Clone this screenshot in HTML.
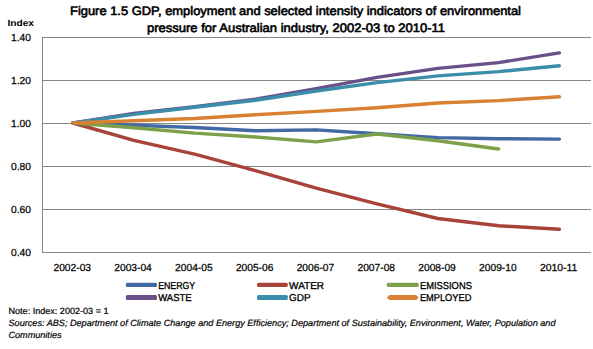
<!DOCTYPE html>
<html><head><meta charset="utf-8"><style>
html,body{margin:0;padding:0;background:#fff;}
svg{display:block;}
text{font-family:"Liberation Sans",sans-serif;fill:#000;text-rendering:geometricPrecision;}
</style></head><body>
<svg width="593" height="349" viewBox="0 0 593 349">
<rect width="593" height="349" fill="#fff"/>
<g font-weight="normal" stroke="#000" stroke-width="0.6">
<text x="70" y="14.5" font-size="12.3" textLength="451" lengthAdjust="spacingAndGlyphs" >Figure 1.5 GDP, employment and selected intensity indicators of environmental</text>
<text x="147" y="31.6" font-size="12.3" textLength="298" lengthAdjust="spacingAndGlyphs" >pressure for Australian industry, 2002-03 to 2010-11</text>
</g><g font-weight="bold"><text x="7.5" y="25.8" font-size="9" textLength="26.5" lengthAdjust="spacingAndGlyphs" >Index</text>
</g>
<g stroke="#868686" stroke-width="1" fill="none">
<line x1="42" y1="37.5" x2="591" y2="37.5" />
<line x1="42" y1="80.5" x2="591" y2="80.5" />
<line x1="42" y1="123.5" x2="591" y2="123.5" />
<line x1="42" y1="166.5" x2="591" y2="166.5" />
<line x1="42" y1="209.5" x2="591" y2="209.5" />
<line x1="42" y1="252.5" x2="591" y2="252.5" />
<line x1="42.5" y1="37" x2="42.5" y2="252.5" />
</g>
<g fill="none" stroke-width="3.4" stroke-linejoin="round" stroke-linecap="round">
<polyline points="73.0,123.0 133.8,125.2 194.6,127.5 255.4,130.7 316.2,129.9 377.0,133.8 437.8,137.6 498.6,138.7 559.4,139.1" stroke="#4169A3" />
<polyline points="73.0,123.0 133.8,140.4 194.6,154.2 255.4,170.7 316.2,188.1 377.0,203.8 437.8,218.5 498.6,225.8 559.4,229.2" stroke="#A8433A" />
<polyline points="73.0,123.0 133.8,127.7 194.6,133.1 255.4,137.0 316.2,141.9 377.0,134.0 437.8,140.8 498.6,149.0" stroke="#7EA04A" />
<polyline points="73.0,123.0 133.8,113.5 194.6,106.7 255.4,99.1 316.2,88.6 377.0,77.4 437.8,68.4 498.6,62.6 559.4,52.9" stroke="#6A5088" />
<polyline points="73.0,123.0 133.8,114.4 194.6,107.3 255.4,100.2 316.2,91.0 377.0,82.6 437.8,75.9 498.6,71.6 559.4,65.8" stroke="#3A8EAA" />
<polyline points="73.0,123.0 133.8,120.8 194.6,118.5 255.4,114.8 316.2,111.4 377.0,107.7 437.8,103.0 498.6,100.6 559.4,96.8" stroke="#D98132" />
</g>
<g font-weight="normal" stroke="#000" stroke-width="0.25">
<text x="11" y="40.5" font-size="10.2" textLength="20" lengthAdjust="spacingAndGlyphs">1.40</text>
<text x="11" y="83.5" font-size="10.2" textLength="20" lengthAdjust="spacingAndGlyphs">1.20</text>
<text x="11" y="126.5" font-size="10.2" textLength="20" lengthAdjust="spacingAndGlyphs">1.00</text>
<text x="11" y="169.5" font-size="10.2" textLength="20" lengthAdjust="spacingAndGlyphs">0.80</text>
<text x="11" y="212.5" font-size="10.2" textLength="20" lengthAdjust="spacingAndGlyphs">0.60</text>
<text x="11" y="255.5" font-size="10.2" textLength="20" lengthAdjust="spacingAndGlyphs">0.40</text>
<text x="53.5" y="271" font-size="10.2" textLength="37.5" lengthAdjust="spacingAndGlyphs">2002-03</text>
<text x="114.3" y="271" font-size="10.2" textLength="37.5" lengthAdjust="spacingAndGlyphs">2003-04</text>
<text x="175.1" y="271" font-size="10.2" textLength="37.5" lengthAdjust="spacingAndGlyphs">2004-05</text>
<text x="235.9" y="271" font-size="10.2" textLength="37.5" lengthAdjust="spacingAndGlyphs">2005-06</text>
<text x="296.7" y="271" font-size="10.2" textLength="37.5" lengthAdjust="spacingAndGlyphs">2006-07</text>
<text x="357.5" y="271" font-size="10.2" textLength="37.5" lengthAdjust="spacingAndGlyphs">2007-08</text>
<text x="418.3" y="271" font-size="10.2" textLength="37.5" lengthAdjust="spacingAndGlyphs">2008-09</text>
<text x="479.1" y="271" font-size="10.2" textLength="37.5" lengthAdjust="spacingAndGlyphs">2009-10</text>
<text x="539.9" y="271" font-size="10.2" textLength="37.5" lengthAdjust="spacingAndGlyphs">2010-11</text>
</g>
<g font-weight="normal" stroke-width="4" stroke-linecap="round">
<rect x="125.9" y="282.8" width="31.099999999999994" height="4.199999999999989" rx="1.5" fill="#4169A3" />
<text x="158.2" y="288.7" font-size="10" textLength="37.0" lengthAdjust="spacingAndGlyphs" stroke="#000" stroke-width="0.32">ENERGY</text>
<rect x="257" y="282.8" width="30.80000000000001" height="4.199999999999989" rx="1.5" fill="#A8433A" />
<text x="289.1" y="288.7" font-size="10" textLength="35.0" lengthAdjust="spacingAndGlyphs" stroke="#000" stroke-width="0.32">WATER</text>
<rect x="386.8" y="282.8" width="31.899999999999977" height="4.199999999999989" rx="1.5" fill="#7EA04A" />
<text x="419.90000000000003" y="288.7" font-size="10" textLength="52.0" lengthAdjust="spacingAndGlyphs" stroke="#000" stroke-width="0.32">EMISSIONS</text>
<rect x="125.9" y="295" width="31.099999999999994" height="5" rx="1.5" fill="#6A5088" />
<text x="158.2" y="301.25" font-size="10" textLength="33.5" lengthAdjust="spacingAndGlyphs" stroke="#000" stroke-width="0.32">WASTE</text>
<rect x="257" y="295" width="30.80000000000001" height="5" rx="1.5" fill="#3A8EAA" />
<text x="289.1" y="301.25" font-size="10" textLength="21.5" lengthAdjust="spacingAndGlyphs" stroke="#000" stroke-width="0.32">GDP</text>
<polygon points="386.8,297.5 389.3,295 416.2,295 418.7,297.5 416.2,300 389.3,300" fill="#D98132" />
<text x="419.90000000000003" y="301.25" font-size="10" textLength="51.5" lengthAdjust="spacingAndGlyphs" stroke="#000" stroke-width="0.32">EMPLOYED</text>
</g>
<g stroke="#000" stroke-width="0.2">
<text x="8.5" y="313.8" font-size="9" textLength="100" lengthAdjust="spacingAndGlyphs" >Note: Index: 2002-03 = 1</text>
</g><g font-style="italic" stroke="#000" stroke-width="0.2">
<text x="8.5" y="325.9" font-size="9" textLength="547" lengthAdjust="spacingAndGlyphs" >Sources: ABS; Department of Climate Change and Energy Efficiency; Department of Sustainability, Environment, Water, Population and</text>
<text x="8.5" y="337.7" font-size="9" textLength="53" lengthAdjust="spacingAndGlyphs" >Communities</text>
</g>
</svg>
</body></html>
